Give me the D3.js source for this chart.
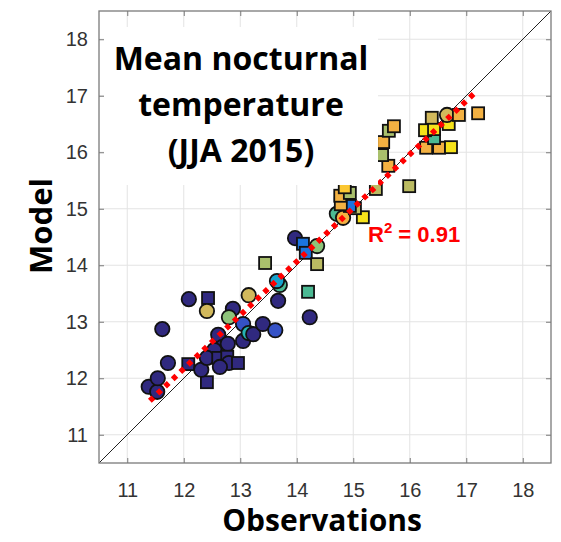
<!DOCTYPE html>
<html>
<head>
<meta charset="utf-8">
<script src="https://cdn.jsdelivr.net/npm/d3@7"></script>
<style>
  body { margin: 0; background: #fff; }
  svg { display: block; }
</style>
</head>
<body>
<div id="chart"></div>
<script>
// observed vs modelled mean nocturnal temperature, one entry per station
const obs = [11.38, 11.53, 11.54, 11.72, 11.62, 12.09, 12.08, 12.41, 12.31, 12.43,
  12.41, 12.87, 12.80, 13.15, 12.61, 12.68, 12.78, 12.54, 12.41, 12.61,
  12.77, 12.80, 12.96, 12.64, 13.05, 13.05, 13.15, 13.23, 13.40, 13.62,
  13.67, 13.70, 13.65, 13.44, 14.23, 14.20, 13.97, 14.11, 14.16, 14.36,
  14.36, 14.71, 14.82, 15.17, 15.03, 14.94, 14.78, 14.77, 14.94, 14.85,
  15.40, 15.99, 15.62, 15.51, 15.53, 15.63, 15.72, 16.29, 16.52, 16.73,
  16.43, 16.27, 16.43, 16.69, 16.39, 16.66, 16.87, 17.21];
const model = [11.85, 11.76, 12.00, 12.27, 12.87, 13.40, 12.25, 11.93, 12.15, 13.42,
  13.19, 13.23, 13.08, 13.47, 12.77, 12.55, 12.61, 12.50, 12.36, 12.36,
  12.38, 12.27, 12.27, 12.20, 12.66, 12.96, 12.80, 12.78, 12.96, 12.85,
  13.37, 13.65, 13.72, 14.04, 13.08, 13.53, 14.48, 14.38, 14.22, 14.34,
  14.02, 14.91, 14.84, 14.85, 15.01, 15.05, 15.08, 15.23, 15.28, 15.38,
  15.35, 15.40, 15.76, 15.95, 16.18, 16.38, 16.46, 16.08, 16.08, 16.09,
  16.25, 16.39, 16.41, 16.50, 16.61, 16.66, 16.66, 16.69];
// "c" = circle, "s" = square
const shape = ["c","c","c","c","c","c","s","s","c","s",
  "c","c","c","c","c","c","c","c","c","s",
  "s","c","s","c","c","c","c","c","c","c",
  "c","c","c","s","c","s","c","s","s","c",
  "s","c","c","s","s","s","s","s","s","s",
  "s","s","s","s","s","s","s","s","s","s",
  "s","s","s","s","s","c","s","s"];
// colour class of each station (0 = dark blue ... 12 = yellow)
const colourClass = [0,0,0,0,0,0,0,0,0,0,
  9,0,6,9,0,0,0,0,0,0,
  0,0,0,0,0,1,4,0,0,1,
  0,5,3,7,0,5,0,2,2,6,
  8,5,10,12,8,2,10,10,7,11,
  8,8,10,7,10,7,10,10,10,12,
  5,12,12,12,9,9,10,10];

const ticks = [11, 12, 13, 14, 15, 16, 17, 18];
const fitX = [11.4, 17.15];
const fitSlope = 0.948, fitIntercept = 0.793;
const r2 = "0.91";
const titleLines = ["Mean nocturnal", "temperature", "(JJA 2015)"];

const w = 561, h = 542;
const pL = 99, pR = 551, pT = 11, pB = 463;

const palette = ["#30297f", "#3552c6", "#1b74df", "#16a2cc", "#25b3b3", "#4bb993",
  "#8ec47a", "#a9c06c", "#bbbb62", "#d2b95c", "#f3b142", "#fbc732", "#f6e21a"];

const svg = d3.select("#chart").append("svg")
  .attr("width", w)
  .attr("height", h);

const xScale = d3.scaleLinear().domain([10.5, 18.5]).range([pL, pR]);
const yScale = d3.scaleLinear().domain([10.5, 18.5]).range([pB, pT]);
const colour = d3.scaleOrdinal().domain(d3.range(palette.length)).range(palette);

// grid
svg.append("g").selectAll("line")
  .data(ticks).enter().append("line")
  .attr("x1", d => xScale(d)).attr("x2", d => xScale(d))
  .attr("y1", pT).attr("y2", pB)
  .attr("stroke", "#e3e3e3").attr("stroke-width", 1);
svg.append("g").selectAll("line")
  .data(ticks).enter().append("line")
  .attr("y1", d => yScale(d)).attr("y2", d => yScale(d))
  .attr("x1", pL).attr("x2", pR)
  .attr("stroke", "#e3e3e3").attr("stroke-width", 1);

// 1:1 line
svg.append("line")
  .attr("x1", xScale(10.5)).attr("y1", yScale(10.5))
  .attr("x2", xScale(18.5)).attr("y2", yScale(18.5))
  .attr("stroke", "#222").attr("stroke-width", 1);

const pts = obs.map((o, i) => ({x: o, y: model[i], s: shape[i], c: colourClass[i]}));

const marks = svg.append("g");
pts.forEach(d => {
  if (d.s === "c") {
    marks.append("circle")
      .attr("cx", xScale(d.x)).attr("cy", yScale(d.y))
      .attr("r", 7.2)
      .attr("fill", colour(d.c))
      .attr("stroke", "#111").attr("stroke-width", 1.8);
  } else {
    marks.append("rect")
      .attr("x", xScale(d.x) - 6).attr("y", yScale(d.y) - 6)
      .attr("width", 12).attr("height", 12)
      .attr("fill", colour(d.c))
      .attr("stroke", "#111").attr("stroke-width", 1.8);
  }
});

// regression line
svg.append("line")
  .attr("x1", xScale(fitX[0])).attr("y1", yScale(fitIntercept + fitSlope * fitX[0]))
  .attr("x2", xScale(fitX[1])).attr("y2", yScale(fitIntercept + fitSlope * fitX[1]))
  .attr("stroke", "#ff0000")
  .attr("stroke-width", 5.5)
  .attr("stroke-dasharray", "5,5.5");

// axes (ticks point inwards, box on all sides)
const tickCol = "#7a7a7a";
const styleAxis = g => {
  g.select(".domain").remove();
  g.selectAll(".tick line").attr("stroke", tickCol);
  g.selectAll(".tick text")
    .attr("fill", "#333")
    .style("font-family", "'Liberation Sans', Arial, sans-serif")
    .style("font-size", "20px");
};
svg.append("g")
  .attr("transform", `translate(0, ${pB})`)
  .call(d3.axisBottom(xScale).tickValues(ticks).tickSize(-5).tickPadding(20))
  .call(styleAxis);
svg.append("g")
  .attr("transform", `translate(0, ${pT})`)
  .call(d3.axisTop(xScale).tickValues(ticks).tickSize(-5).tickFormat(""))
  .call(styleAxis);
svg.append("g")
  .attr("transform", `translate(${pL}, 0)`)
  .call(d3.axisLeft(yScale).tickValues(ticks).tickSize(-5).tickPadding(11))
  .call(styleAxis);
svg.append("g")
  .attr("transform", `translate(${pR}, 0)`)
  .call(d3.axisRight(yScale).tickValues(ticks).tickSize(-5).tickFormat(""))
  .call(styleAxis);

svg.append("rect")
  .attr("x", pL).attr("y", pT)
  .attr("width", pR - pL).attr("height", pB - pT)
  .attr("fill", "none")
  .attr("stroke", tickCol).attr("stroke-width", 1.3);

// title panel
svg.append("rect")
  .attr("x", pL + 5).attr("y", 27)
  .attr("width", 378 - pL - 5).attr("height", 158)
  .attr("fill", "#fff");
svg.append("g").selectAll("text")
  .data(titleLines).enter().append("text")
  .attr("x", 241)
  .attr("y", (d, i) => 70 + i * 46)
  .attr("text-anchor", "middle")
  .style("font-family", "'Open Sans', sans-serif")
  .style("font-weight", "bold")
  .style("font-size", "32px")
  .attr("fill", "#000")
  .text(d => d);

// R squared
const rt = svg.append("text")
  .attr("x", 368).attr("y", 242)
  .attr("fill", "#ff0000")
  .style("font-family", "'Liberation Sans', Arial, sans-serif")
  .style("font-weight", "bold")
  .style("font-size", "22px");
rt.append("tspan").text("R");
rt.append("tspan").attr("dy", -9).style("font-size", "15px").text("2");
rt.append("tspan").attr("dy", 9).text(" = " + r2);

// axis titles
svg.append("text")
  .attr("x", 322).attr("y", 531)
  .attr("text-anchor", "middle")
  .style("font-family", "'Open Sans', sans-serif")
  .style("font-weight", "bold")
  .style("font-size", "30px")
  .text("Observations");
svg.append("text")
  .attr("transform", "translate(52, 226) rotate(-90)")
  .attr("text-anchor", "middle")
  .style("font-family", "'Open Sans', sans-serif")
  .style("font-weight", "bold")
  .style("font-size", "31px")
  .text("Model");
</script>
</body>
</html>
